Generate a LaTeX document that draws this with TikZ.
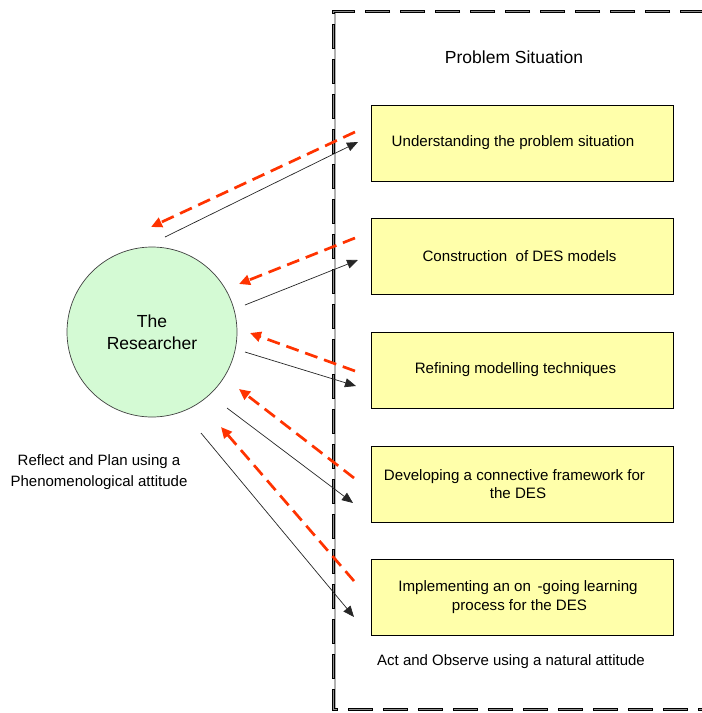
\documentclass[tikz,border=0pt]{standalone}
\usepackage{fontspec}
\setmainfont{Liberation Sans}
\usetikzlibrary{arrows.meta}
\definecolor{boxfill}{RGB}{255,255,170}
\definecolor{circfill}{RGB}{212,250,212}
\definecolor{arrred}{RGB}{255,51,0}
\begin{document}
\begin{tikzpicture}[x=1pt,y=-1pt,
  taskbox/.style={draw=black, line width=0.8pt, fill=boxfill, minimum width=302pt, minimum height=76pt, inner sep=2pt, align=center, font=\fontsize{15.1}{18.5}\selectfont},
  label/.style={inner sep=0pt, font=\fontsize{15}{20.5}\selectfont},
  actarrow/.style={draw=black!85, line width=0.7pt, -{Triangle[length=11pt,width=9pt]}},
  reflarrow/.style={draw=arrred, line width=2.7pt, dash pattern=on 13pt off 7pt, -{Triangle[length=11pt,width=10pt]}},
  framedash/.style={draw=black, line width=3pt, dash pattern=on 25pt off 10pt},
  framecore/.style={draw=black!45, line width=0.9pt, dash pattern=on 23pt off 12pt, dash phase=-1pt}
]
\useasboundingbox (0,0) rectangle (702,713);
% frame
\draw[draw=black!30, line width=1.5pt] (335,11) -- (335,709);
\draw[framedash] (705,11) -- (333,11) -- (333,709) -- (705,709);
\draw[framecore] (705,11) -- (333,11) -- (333,709) -- (705,709);
% labels
\node[label, font=\fontsize{17.5}{22}\selectfont] (ps) at (514,57) {Problem Situation};
\node[label] (ao) at (511,662) {Act and Observe using a natural attitude};
\node[label, align=center] (rp) at (99,472) {Reflect and Plan using a\\Phenomenological attitude};
% researcher
\node[circle, draw=black!75, line width=0.7pt, fill=circfill, minimum size=170pt, inner sep=0pt, align=center, font=\fontsize{17.5}{22}\selectfont] (res) at (152,332) {The\\Researcher};
% boxes
\node[taskbox] (b1) at (522,143) {Understanding the problem situation\hspace*{18pt}};
\node[taskbox] (b2) at (522,256) {Construction \ of DES models\hspace*{5pt}};
\node[taskbox] (b3) at (522,370) {Refining modelling techniques\hspace*{13pt}};
\node[taskbox] (b4) at (522,484) {Developing a connective framework for\hspace*{15pt}\\the DES\hspace*{8pt}};
\node[taskbox] (b5) at (522,597) {Implementing an on \,-going learning\hspace*{8pt}\\process for the DES\hspace*{5pt}};
% coordinates for connectors
\coordinate (s1) at (165,237); \coordinate (e1) at (358,142);
\coordinate (s2) at (245,305); \coordinate (e2) at (358,260);
\coordinate (s3) at (245,352); \coordinate (e3) at (356,386);
\coordinate (s4) at (227,408); \coordinate (e4) at (353,503);
\coordinate (s5) at (201,433); \coordinate (e5) at (354,617);
\coordinate (r1) at (355,132); \coordinate (q1) at (151,227);
\coordinate (r2) at (355,238); \coordinate (q2) at (239,284);
\coordinate (r3) at (355,371); \coordinate (q3) at (250,333);
\coordinate (r4) at (354,478); \coordinate (q4) at (239,389);
\coordinate (r5) at (354,581); \coordinate (q5) at (221,427);
% act arrows
\draw[actarrow] (s1) -- (e1);
\draw[actarrow] (s2) -- (e2);
\draw[actarrow] (s3) -- (e3);
\draw[actarrow] (s4) -- (e4);
\draw[actarrow] (s5) -- (e5);
% reflect arrows
\draw[reflarrow] (r1) -- (q1);
\draw[reflarrow] (r2) -- (q2);
\draw[reflarrow] (r3) -- (q3);
\draw[reflarrow] (r4) -- (q4);
\draw[reflarrow] (r5) -- (q5);
\end{tikzpicture}
\end{document}
